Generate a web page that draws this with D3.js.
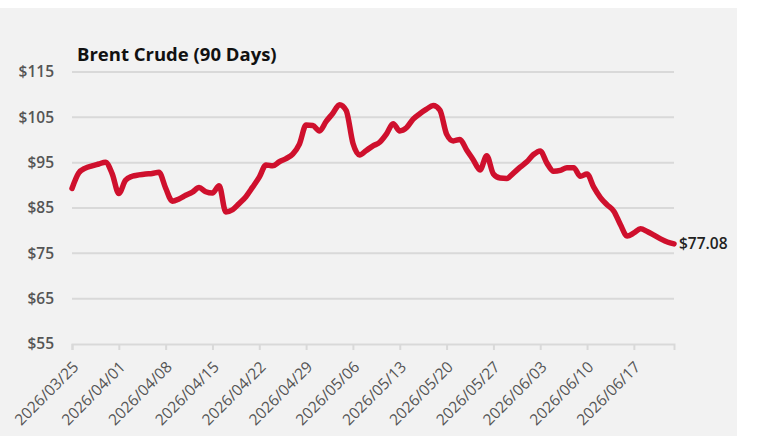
<!DOCTYPE html>
<html>
<head>
<meta charset="utf-8">
<script src="https://cdn.jsdelivr.net/npm/d3@7"></script>
<style>
  body { margin: 0; background: #fff; font-family: "Open Sans", sans-serif; }
</style>
</head>
<body>
<svg id="chart" width="758" height="436"></svg>
<script>
// daily closing values, 2026/03/25 .. 2026/06/23
const startDate = "2026-03-25",
      endDate = "2026-06-23";

const prices = [
  89.3, 92.7, 93.8, 94.3, 94.7, 95.1, 92.6, 88.2, 91.1, 92.0,
  92.3, 92.5, 92.6, 92.9, 89.4, 86.5, 87.0, 87.8, 88.5, 89.5,
  88.6, 88.3, 89.9, 84.1, 84.6, 86.0, 87.5, 89.6, 91.8, 94.5,
  94.3, 95.2, 95.9, 96.9, 99.1, 103.3, 103.2, 102.0, 104.1, 105.9,
  107.8, 106.5, 99.3, 96.7, 97.7, 98.7, 99.5, 101.3, 103.6, 102.0,
  102.7, 104.6, 105.8, 106.8, 107.6, 106.6, 101.3, 99.8, 100.1, 97.8,
  95.6, 93.4, 96.5, 92.5, 91.6, 91.5, 92.7, 94.0, 95.2, 96.8,
  97.6, 94.9, 93.1, 93.3, 93.9, 93.9, 92.0, 92.5, 89.6, 87.3,
  85.7, 84.3, 81.3, 78.8, 79.5, 80.4, 79.8, 79.0, 78.2, 77.5,
  77.08
];

const yTicks = [55, 65, 75, 85, 95, 105, 115];

const xTickLabels = [
  "2026/03/25", "2026/04/01", "2026/04/08", "2026/04/15", "2026/04/22",
  "2026/04/29", "2026/05/06", "2026/05/13", "2026/05/20", "2026/05/27",
  "2026/06/03", "2026/06/10", "2026/06/17"
];

const title = "Brent Crude (90 Days)";

let width = 758,
    height = 436,
    margins = {top: 72, bottom: 92, left: 72, right: 84};

let parseIso = d3.timeParse("%Y-%m-%d"),
    parseTick = d3.timeParse("%Y/%m/%d"),
    fmtTick = d3.timeFormat("%Y/%m/%d");

let days = d3.timeDay.range(parseIso(startDate), d3.timeDay.offset(parseIso(endDate), 1));
let data = days.map((d, i) => ({date: d, value: prices[i]}));

let svg = d3.select("#chart");

// panel background
svg.append("rect")
  .attr("x", 0).attr("y", 8)
  .attr("width", 737).attr("height", height - 8)
  .attr("fill", "#f2f2f2");

let x = d3.scaleTime()
  .domain([parseIso(startDate), parseIso(endDate)])
  .range([margins.left, width - margins.right]);

let y = d3.scaleLinear()
  .domain([d3.min(yTicks), d3.max(yTicks)])
  .range([height - margins.bottom, margins.top]);

// gridlines
svg.append("g")
  .selectAll("line")
  .data(yTicks.slice(1)).enter()
  .append("line")
  .attr("x1", margins.left).attr("x2", width - margins.right)
  .attr("y1", d => y(d)).attr("y2", d => y(d))
  .attr("stroke", "#d9d9d9")
  .attr("stroke-width", 2);

// y labels
svg.append("g")
  .selectAll("text")
  .data(yTicks).enter()
  .append("text")
  .attr("x", 54)
  .attr("y", d => y(d))
  .attr("dy", "0.35em")
  .attr("text-anchor", "end")
  .attr("font-size", 15.5)
  .attr("font-weight", 600)
  .attr("fill", "#555")
  .text(d => "$" + d);

// x axis
let xAxis = d3.axisBottom(x)
  .tickValues(xTickLabels.map(parseTick))
  .tickFormat(fmtTick)
  .tickSize(6);

let gx = svg.append("g")
  .attr("transform", `translate(0,${height - margins.bottom})`)
  .call(xAxis);

gx.select(".domain").attr("stroke", "#d9d9d9").attr("stroke-width", 2);
gx.selectAll(".tick line").attr("stroke", "#d9d9d9").attr("stroke-width", 2);
gx.selectAll(".tick text")
  .attr("x", 0).attr("y", 0).attr("dy", 0)
  .attr("transform", "translate(7,24) rotate(-45)")
  .attr("text-anchor", "end")
  .attr("font-family", "Open Sans, sans-serif")
  .attr("font-size", 15.5)
  .attr("fill", "#555");

// price line
let line = d3.line()
  .curve(d3.curveMonotoneX)
  .x(d => x(d.date))
  .y(d => y(d.value));

svg.append("path")
  .datum(data)
  .attr("d", line)
  .attr("fill", "none")
  .attr("stroke", "#cf102d")
  .attr("stroke-width", 5.5)
  .attr("stroke-linejoin", "round")
  .attr("stroke-linecap", "round");

// last value label
let last = data[data.length - 1];
svg.append("text")
  .attr("x", x(last.date) + 5)
  .attr("y", y(last.value))
  .attr("dy", "0.35em")
  .attr("font-size", 15.5)
  .attr("font-weight", 600)
  .attr("fill", "#222")
  .text("$" + last.value.toFixed(2));

// title
svg.append("text")
  .attr("x", 77)
  .attr("y", 61)
  .attr("font-size", 18.5)
  .attr("font-weight", 700)
  .attr("fill", "#111")
  .text(title);
</script>
</body>
</html>
